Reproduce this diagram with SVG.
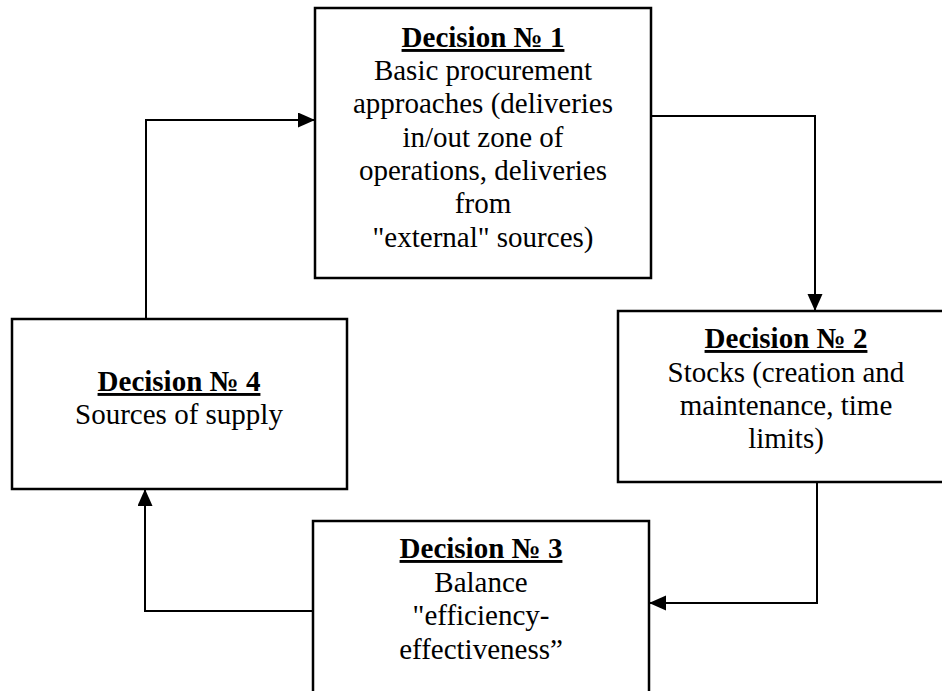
<svg xmlns="http://www.w3.org/2000/svg" width="942" height="691" viewBox="0 0 942 691">
<style>
.box{fill:#fff;stroke:#000;stroke-width:2.5}
.c{fill:none;stroke:#000;stroke-width:2;marker-end:url(#arr)}
.lbl{font-family:'Liberation Serif','Times New Roman',serif;font-size:29px;fill:#000;text-anchor:middle}
.h{font-weight:bold;text-decoration:underline}
</style>
<defs>
<marker id="arr" markerUnits="userSpaceOnUse" markerWidth="17" markerHeight="16" refX="17" refY="7.5" orient="auto">
<path d="M0,0 L17,7.5 L0,15 z" fill="#000"/>
</marker>
</defs>
<rect width="942" height="691" fill="#fff"/>
<g id="connectors">
<polyline class="c" points="146,319 146,120 315,120"/>
<polyline class="c" points="651,116 815,116 815,311"/>
<polyline class="c" points="817,482 817,603 649,603"/>
<polyline class="c" points="313,611 145,611 145,489"/>
</g>
<g id="node1" class="lbl">
<rect class="box" x="315" y="8" width="336" height="270"/>
<text class="h" x="483" y="47">Decision № 1</text>
<text x="483" y="80">Basic procurement</text>
<text x="483" y="113">approaches (deliveries</text>
<text x="483" y="147">in/out zone of</text>
<text x="483" y="180">operations, deliveries</text>
<text x="483" y="213">from</text>
<text x="483" y="247">"external" sources)</text>
</g>
<g id="node2" class="lbl">
<rect class="box" x="618" y="311" width="340" height="171"/>
<text class="h" x="786" y="348">Decision № 2</text>
<text x="786" y="382">Stocks (creation and</text>
<text x="786" y="415">maintenance, time</text>
<text x="786" y="448">limits)</text>
</g>
<g id="node3" class="lbl">
<rect class="box" x="313" y="521" width="336" height="172"/>
<text class="h" x="481" y="558">Decision № 3</text>
<text x="481" y="592">Balance</text>
<text x="481" y="625">"efficiency-</text>
<text x="481" y="659">effectiveness”</text>
</g>
<g id="node4" class="lbl">
<rect class="box" x="12" y="319" width="335" height="170"/>
<text class="h" x="179" y="391">Decision № 4</text>
<text x="179" y="424">Sources of supply</text>
</g>
</svg>
